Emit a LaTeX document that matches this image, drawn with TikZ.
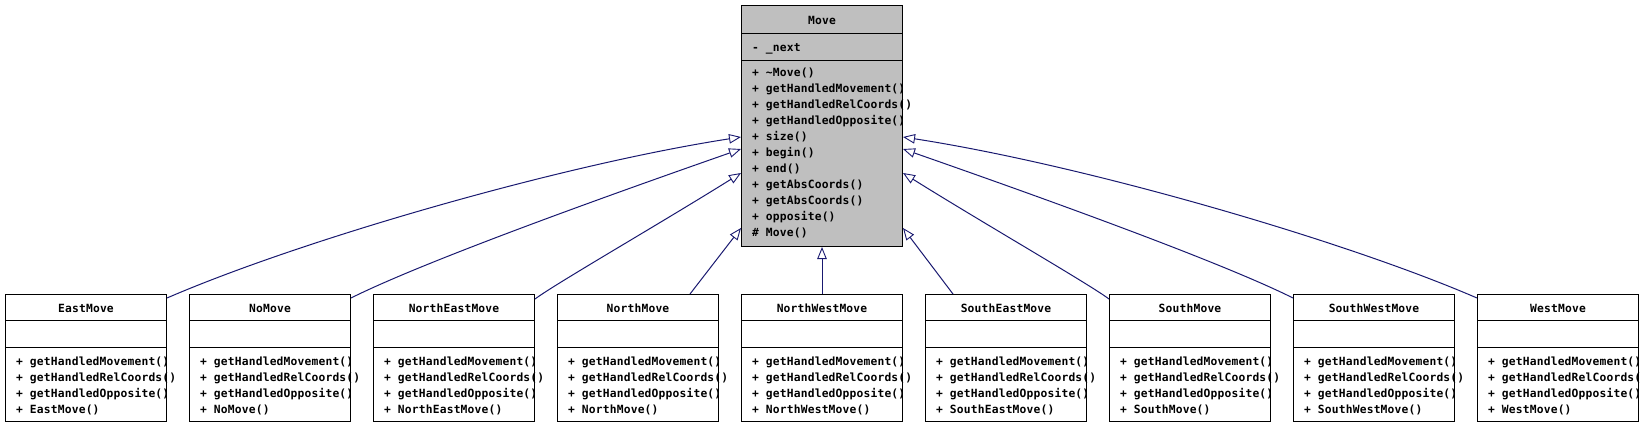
\documentclass[tikz,border=0pt]{standalone}
\usepackage{fontspec}
\newfontfamily\umlfont{DejaVu Sans Mono}[LetterSpace=1.5]
\usetikzlibrary{arrows.meta,calc}
\definecolor{edgeblue}{HTML}{191970}
\definecolor{boxgray}{HTML}{BFBFBF}
\begin{document}
\begin{tikzpicture}[x=1pt,y=-1pt,
  box/.style={draw=black,line width=1pt,inner sep=0pt,minimum width=161pt,anchor=north west},
  txt/.style={inner sep=0pt,anchor=base west,font=\umlfont\bfseries\fontsize{11.3}{13}\selectfont},
  ttl/.style={inner sep=0pt,anchor=base,font=\umlfont\bfseries\fontsize{11.3}{13}\selectfont},
  sep/.style={draw=black,line width=1pt},
  edge/.style={draw=edgeblue,line width=1pt,-{Triangle[length=12pt,width=9.5pt,fill=white,line width=0.9pt]}},
]
\useasboundingbox[fill=white] (0,0) rectangle (1642,426);

% base class
\node[box,fill=boxgray,minimum height=241pt] (move) at (741,5) {};
\draw[sep] ($(move.north west)+(0,28)$) -- ($(move.north east)+(0,28)$);
\draw[sep] ($(move.north west)+(0,55)$) -- ($(move.north east)+(0,55)$);
\node[ttl] (move-name) at ($(move.north)+(0,19.5)$) {Move};
\node[txt] (move-a1) at ($(move.north west)+(11,46)$) {- \_next};
\foreach \t [count=\j from 0] in {+ \textasciitilde Move(), + getHandledMovement(), + getHandledRelCoords(), + getHandledOpposite(), + size(), + begin(), + end(), + getAbsCoords(), + getAbsCoords(), + opposite(), \# Move()}
  \node[txt] (move-m\j) at ($(move.north west)+(11,71+16*\j)$) {\t};

% derived classes
\foreach \k/\n/\i in {east/EastMove/0, no/NoMove/1, ne/NorthEastMove/2, north/NorthMove/3, nw/NorthWestMove/4, se/SouthEastMove/5, south/SouthMove/6, sw/SouthWestMove/7, west/WestMove/8}{
  \node[box,minimum height=127pt] (\k) at ({5+184*\i},294) {};
  \draw[sep] ($(\k.north west)+(0,26)$) -- ($(\k.north east)+(0,26)$);
  \draw[sep] ($(\k.north west)+(0,53)$) -- ($(\k.north east)+(0,53)$);
  \node[ttl] (\k-name) at ($(\k.north)+(0,18)$) {\n};
  \node[txt] (\k-m1) at ($(\k.north west)+(11,71)$) {+ getHandledMovement()};
  \node[txt] (\k-m2) at ($(\k.north west)+(11,87)$) {+ getHandledRelCoords()};
  \node[txt] (\k-m3) at ($(\k.north west)+(11,103)$) {+ getHandledOpposite()};
  \node[txt] (\k-m4) at ($(\k.north west)+(11,119)$) {+ \n()};
}

% inheritance edges
\draw[edge] ($(east.north east)+(0,4)$) .. controls +(134,-58) and +(-181,28) .. ($(move.north west)+(0,132)$);
\draw[edge] ($(no.north east)+(0,4)$) .. controls +(80,-40) and +(-100,35) .. ($(move.north west)+(0,144)$);
\draw[edge] ($(ne.north east)+(0,5)$) .. controls +(20,-15) and +(-80,50) .. ($(move.north west)+(0,168)$);
\draw[edge] ($(north.north west)+(133,0)$) -- ($(move.north west)+(0,223)$);
\draw[edge] (nw.north) -- (move.south);
\draw[edge] ($(se.north west)+(28,0)$) -- ($(move.north east)+(0,223)$);
\draw[edge] ($(south.north west)+(0,5)$) .. controls +(-20,-15) and +(80,50) .. ($(move.north east)+(0,168)$);
\draw[edge] ($(sw.north west)+(0,4)$) .. controls +(-80,-40) and +(100,35) .. ($(move.north east)+(0,144)$);
\draw[edge] ($(west.north west)+(0,4)$) .. controls +(-134,-58) and +(181,28) .. ($(move.north east)+(0,132)$);
\end{tikzpicture}
\end{document}
